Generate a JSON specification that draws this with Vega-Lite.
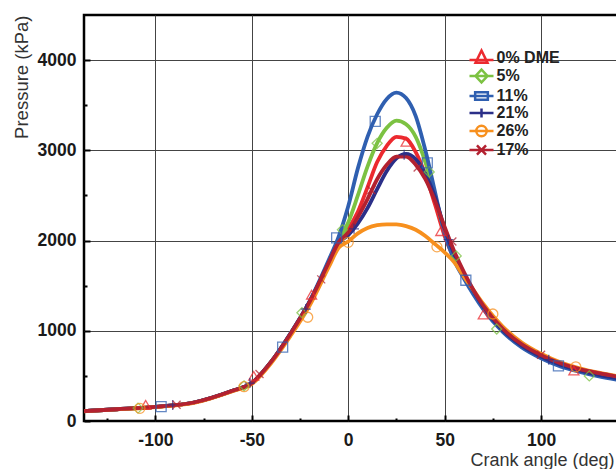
{
  "$schema": "https://vega.github.io/schema/vega-lite/v6.json",
  "width": 540,
  "height": 406,
  "autosize": "none",
  "padding": {"left": 84, "top": 15, "right": 0, "bottom": 48},
  "background": "white",
  "config": {
    "view": {"stroke": "#000", "strokeWidth": 2.5},
    "font": "Liberation Sans"
  },
  "datasets": {
    "curves": [
      {"series":"0% DME","angle":-137,"p":110},{"series":"0% DME","angle":-120,"p":130},{"series":"0% DME","angle":-100,"p":157},{"series":"0% DME","angle":-80,"p":205},{"series":"0% DME","angle":-60,"p":335},{"series":"0% DME","angle":-50,"p":420},{"series":"0% DME","angle":-40,"p":655},{"series":"0% DME","angle":-30,"p":965},{"series":"0% DME","angle":-20,"p":1320},{"series":"0% DME","angle":-10,"p":1760},{"series":"0% DME","angle":-5,"p":1990},{"series":"0% DME","angle":0,"p":2130},{"series":"0% DME","angle":5,"p":2320},{"series":"0% DME","angle":10,"p":2590},{"series":"0% DME","angle":15,"p":2870},{"series":"0% DME","angle":20,"p":3050},{"series":"0% DME","angle":25,"p":3150},{"series":"0% DME","angle":30,"p":3130},{"series":"0% DME","angle":35,"p":2980},{"series":"0% DME","angle":40,"p":2730},{"series":"0% DME","angle":45,"p":2400},{"series":"0% DME","angle":50,"p":2050},{"series":"0% DME","angle":55,"p":1800},{"series":"0% DME","angle":60,"p":1600},{"series":"0% DME","angle":65,"p":1420},{"series":"0% DME","angle":70,"p":1260},{"series":"0% DME","angle":80,"p":1010},{"series":"0% DME","angle":90,"p":835},{"series":"0% DME","angle":100,"p":715},{"series":"0% DME","angle":110,"p":625},{"series":"0% DME","angle":120,"p":565},{"series":"0% DME","angle":130,"p":520},{"series":"0% DME","angle":143,"p":470},
      {"series":"5%","angle":-137,"p":110},{"series":"5%","angle":-120,"p":130},{"series":"5%","angle":-100,"p":157},{"series":"5%","angle":-80,"p":205},{"series":"5%","angle":-60,"p":335},{"series":"5%","angle":-50,"p":420},{"series":"5%","angle":-40,"p":655},{"series":"5%","angle":-30,"p":965},{"series":"5%","angle":-20,"p":1320},{"series":"5%","angle":-10,"p":1765},{"series":"5%","angle":-5,"p":2000},{"series":"5%","angle":0,"p":2200},{"series":"5%","angle":5,"p":2500},{"series":"5%","angle":10,"p":2820},{"series":"5%","angle":15,"p":3080},{"series":"5%","angle":20,"p":3250},{"series":"5%","angle":25,"p":3330},{"series":"5%","angle":30,"p":3290},{"series":"5%","angle":35,"p":3150},{"series":"5%","angle":40,"p":2870},{"series":"5%","angle":45,"p":2500},{"series":"5%","angle":50,"p":2100},{"series":"5%","angle":55,"p":1830},{"series":"5%","angle":60,"p":1610},{"series":"5%","angle":65,"p":1420},{"series":"5%","angle":70,"p":1255},{"series":"5%","angle":80,"p":1000},{"series":"5%","angle":90,"p":825},{"series":"5%","angle":100,"p":705},{"series":"5%","angle":110,"p":615},{"series":"5%","angle":120,"p":555},{"series":"5%","angle":130,"p":505},{"series":"5%","angle":143,"p":455},
      {"series":"11%","angle":-137,"p":110},{"series":"11%","angle":-120,"p":130},{"series":"11%","angle":-100,"p":157},{"series":"11%","angle":-80,"p":205},{"series":"11%","angle":-60,"p":335},{"series":"11%","angle":-50,"p":420},{"series":"11%","angle":-40,"p":655},{"series":"11%","angle":-30,"p":970},{"series":"11%","angle":-20,"p":1330},{"series":"11%","angle":-10,"p":1790},{"series":"11%","angle":-5,"p":2040},{"series":"11%","angle":0,"p":2380},{"series":"11%","angle":5,"p":2800},{"series":"11%","angle":10,"p":3150},{"series":"11%","angle":15,"p":3400},{"series":"11%","angle":20,"p":3570},{"series":"11%","angle":25,"p":3640},{"series":"11%","angle":30,"p":3580},{"series":"11%","angle":35,"p":3380},{"series":"11%","angle":40,"p":3000},{"series":"11%","angle":45,"p":2540},{"series":"11%","angle":50,"p":2080},{"series":"11%","angle":55,"p":1780},{"series":"11%","angle":60,"p":1580},{"series":"11%","angle":65,"p":1400},{"series":"11%","angle":70,"p":1240},{"series":"11%","angle":80,"p":990},{"series":"11%","angle":90,"p":815},{"series":"11%","angle":100,"p":695},{"series":"11%","angle":110,"p":605},{"series":"11%","angle":120,"p":545},{"series":"11%","angle":130,"p":495},{"series":"11%","angle":143,"p":445},
      {"series":"21%","angle":-137,"p":110},{"series":"21%","angle":-120,"p":130},{"series":"21%","angle":-100,"p":157},{"series":"21%","angle":-80,"p":205},{"series":"21%","angle":-60,"p":335},{"series":"21%","angle":-50,"p":420},{"series":"21%","angle":-40,"p":655},{"series":"21%","angle":-30,"p":965},{"series":"21%","angle":-20,"p":1320},{"series":"21%","angle":-10,"p":1755},{"series":"21%","angle":-5,"p":1970},{"series":"21%","angle":0,"p":2060},{"series":"21%","angle":5,"p":2190},{"series":"21%","angle":10,"p":2360},{"series":"21%","angle":15,"p":2570},{"series":"21%","angle":20,"p":2770},{"series":"21%","angle":25,"p":2910},{"series":"21%","angle":30,"p":2960},{"series":"21%","angle":35,"p":2900},{"series":"21%","angle":40,"p":2740},{"series":"21%","angle":45,"p":2480},{"series":"21%","angle":50,"p":2130},{"series":"21%","angle":55,"p":1850},{"series":"21%","angle":60,"p":1630},{"series":"21%","angle":65,"p":1440},{"series":"21%","angle":70,"p":1270},{"series":"21%","angle":80,"p":1010},{"series":"21%","angle":90,"p":835},{"series":"21%","angle":100,"p":715},{"series":"21%","angle":110,"p":625},{"series":"21%","angle":120,"p":560},{"series":"21%","angle":130,"p":510},{"series":"21%","angle":143,"p":460},
      {"series":"26%","angle":-137,"p":108},{"series":"26%","angle":-120,"p":128},{"series":"26%","angle":-100,"p":155},{"series":"26%","angle":-80,"p":200},{"series":"26%","angle":-60,"p":330},{"series":"26%","angle":-50,"p":410},{"series":"26%","angle":-40,"p":640},{"series":"26%","angle":-30,"p":940},{"series":"26%","angle":-20,"p":1280},{"series":"26%","angle":-10,"p":1710},{"series":"26%","angle":-5,"p":1920},{"series":"26%","angle":0,"p":1990},{"series":"26%","angle":5,"p":2080},{"series":"26%","angle":10,"p":2140},{"series":"26%","angle":15,"p":2170},{"series":"26%","angle":20,"p":2180},{"series":"26%","angle":25,"p":2180},{"series":"26%","angle":30,"p":2160},{"series":"26%","angle":35,"p":2120},{"series":"26%","angle":40,"p":2050},{"series":"26%","angle":45,"p":1960},{"series":"26%","angle":50,"p":1870},{"series":"26%","angle":55,"p":1760},{"series":"26%","angle":60,"p":1600},{"series":"26%","angle":65,"p":1450},{"series":"26%","angle":70,"p":1300},{"series":"26%","angle":80,"p":1050},{"series":"26%","angle":90,"p":870},{"series":"26%","angle":100,"p":745},{"series":"26%","angle":110,"p":650},{"series":"26%","angle":120,"p":585},{"series":"26%","angle":130,"p":535},{"series":"26%","angle":143,"p":485},
      {"series":"17%","angle":-137,"p":110},{"series":"17%","angle":-120,"p":130},{"series":"17%","angle":-100,"p":157},{"series":"17%","angle":-80,"p":205},{"series":"17%","angle":-60,"p":335},{"series":"17%","angle":-50,"p":420},{"series":"17%","angle":-40,"p":655},{"series":"17%","angle":-30,"p":965},{"series":"17%","angle":-20,"p":1320},{"series":"17%","angle":-10,"p":1760},{"series":"17%","angle":-5,"p":1980},{"series":"17%","angle":0,"p":2090},{"series":"17%","angle":5,"p":2260},{"series":"17%","angle":10,"p":2460},{"series":"17%","angle":15,"p":2680},{"series":"17%","angle":20,"p":2840},{"series":"17%","angle":25,"p":2930},{"series":"17%","angle":30,"p":2930},{"series":"17%","angle":35,"p":2840},{"series":"17%","angle":40,"p":2680},{"series":"17%","angle":45,"p":2440},{"series":"17%","angle":50,"p":2150},{"series":"17%","angle":55,"p":1880},{"series":"17%","angle":60,"p":1650},{"series":"17%","angle":65,"p":1450},{"series":"17%","angle":70,"p":1280},{"series":"17%","angle":80,"p":1025},{"series":"17%","angle":90,"p":850},{"series":"17%","angle":100,"p":730},{"series":"17%","angle":110,"p":640},{"series":"17%","angle":120,"p":575},{"series":"17%","angle":130,"p":530},{"series":"17%","angle":143,"p":480}
    ],
    "markers": [
      {"series":"0% DME","angle":-105,"p":180},{"series":"0% DME","angle":-49,"p":500},{"series":"0% DME","angle":-19,"p":1400},{"series":"0% DME","angle":30,"p":3095},{"series":"0% DME","angle":48,"p":2104},{"series":"0% DME","angle":70,"p":1180},{"series":"0% DME","angle":117,"p":560},
      {"series":"5%","angle":-109,"p":143},{"series":"5%","angle":-54,"p":390},{"series":"5%","angle":-24,"p":1200},{"series":"5%","angle":-3,"p":2120},{"series":"5%","angle":15,"p":3078},{"series":"5%","angle":42,"p":2760},{"series":"5%","angle":56,"p":1830},{"series":"5%","angle":77,"p":1020},{"series":"5%","angle":125,"p":500},
      {"series":"11%","angle":-97,"p":160},{"series":"11%","angle":-34,"p":818},{"series":"11%","angle":-6,"p":2030},{"series":"11%","angle":14,"p":3320},{"series":"11%","angle":41,"p":2860},{"series":"11%","angle":61,"p":1560},{"series":"11%","angle":109,"p":610},
      {"series":"21%","angle":-91,"p":178},{"series":"21%","angle":-51,"p":420},{"series":"21%","angle":-22,"p":1240},{"series":"21%","angle":3,"p":2130},{"series":"21%","angle":29,"p":2950},{"series":"21%","angle":52,"p":2010},{"series":"21%","angle":104,"p":680},
      {"series":"26%","angle":-108,"p":140},{"series":"26%","angle":-54,"p":380},{"series":"26%","angle":-21,"p":1150},{"series":"26%","angle":0,"p":1980},{"series":"26%","angle":46,"p":1930},{"series":"26%","angle":75,"p":1186},{"series":"26%","angle":118,"p":600},
      {"series":"17%","angle":-89,"p":180},{"series":"17%","angle":-46,"p":520},{"series":"17%","angle":-14,"p":1570},{"series":"17%","angle":12,"p":2560},{"series":"17%","angle":36,"p":2810},{"series":"17%","angle":54,"p":1990},{"series":"17%","angle":100,"p":735}
    ]
  },
  "encoding": {
    "x": {
      "field": "angle", "type": "quantitative",
      "scale": {"domain": [-137, 143], "nice": false, "zero": false},
      "axis": {
        "title": "Crank angle (deg)",
        "values": [-125, -100, -75, -50, -25, 0, 25, 50, 75, 100, 125],
        "labelExpr": "datum.value % 50 === 0 ? '' + datum.value : ''",
        "domain": false,
        "grid": true,
        "gridColor": "#444",
        "gridWidth": 1,
        "gridOpacity": {"condition": {"test": "datum.value % 50 === 0", "value": 1}, "value": 0},
        "tickColor": "#000",
        "tickWidth": 2,
        "tickSize": {"condition": {"test": "datum.value % 50 === 0", "value": -6}, "value": -3},
        "labelFont": "Liberation Sans",
        "labelFontSize": 17.5,
        "labelFontWeight": "bold",
        "labelColor": "#1a1a1a",
        "labelPadding": 16,
        "labelFlush": false,
        "titleFont": "Liberation Sans",
        "titleFontSize": 18,
        "titleFontWeight": "normal",
        "titleColor": "#333",
        "titleAnchor": "end",
        "titleAlign": "right",
        "titleBaseline": "alphabetic",
        "titleX": 530,
        "titleY": 44.5
      }
    },
    "y": {
      "field": "p", "type": "quantitative",
      "scale": {"domain": [0, 4500], "nice": false},
      "axis": {
        "title": "Pressure (kPa)",
        "values": [0, 500, 1000, 1500, 2000, 2500, 3000, 3500, 4000],
        "labelExpr": "datum.value % 1000 === 0 ? '' + datum.value : ''",
        "domain": false,
        "grid": true,
        "gridColor": "#444",
        "gridWidth": 1,
        "gridOpacity": {"condition": {"test": "datum.value % 1000 === 0 && datum.value > 0", "value": 1}, "value": 0},
        "tickColor": "#000",
        "tickWidth": 2,
        "tickSize": {"condition": {"test": "datum.value % 1000 === 0", "value": -6}, "value": -3},
        "labelFont": "Liberation Sans",
        "labelFontSize": 17.5,
        "labelFontWeight": "bold",
        "labelColor": "#1a1a1a",
        "labelPadding": 14,
        "labelFlush": false,
        "titleFont": "Liberation Sans",
        "titleFontSize": 18.5,
        "titleFontWeight": "normal",
        "titleColor": "#333",
        "titleAnchor": "end",
        "titlePadding": 6
      }
    }
  },
  "resolve": {"scale": {"color": "independent"}, "legend": {"color": "independent"}},
  "layer": [
    {
      "data": {"name": "curves"},
      "mark": {"type": "line", "strokeWidth": 3.8, "interpolate": "monotone", "clip": true},
      "encoding": {
        "color": {
          "field": "series", "type": "nominal",
          "scale": {
            "domain": ["0% DME", "5%", "11%", "21%", "26%", "17%"],
            "range": ["#ec2a2f", "#7cc242", "#2f5fb0", "#2b2f88", "#f7901e", "#b32130"]
          },
          "sort": ["0% DME", "5%", "11%", "21%", "26%", "17%"],
          "legend": {
            "title": null,
            "orient": "none",
            "legendX": 389.5,
            "legendY": 35,
            "padding": 0,
            "rowPadding": -5,
            "symbolType": "M-2.4,0H2.4",
            "symbolSize": 100,
            "symbolStrokeWidth": 2.5,
            "symbolFillColor": "transparent",
            "labelOffset": 7,
            "labelFont": "Liberation Sans",
            "labelFontSize": 16,
            "labelFontWeight": "bold",
            "labelColor": "#222",
            "encode": {
              "symbols": {
                "update": {
                  "fill": {"value": "transparent"},
                  "shape": {"signal": "datum.value === '0% DME' ? 'M-2.4,0.39H2.4M0,-1.5L1.2,0.97H-1.2Z' : datum.value === '5%' ? 'M-2.4,0H2.4M0,-1.27L1.2,0L0,1.27L-1.2,0Z' : datum.value === '11%' ? 'M-2.4,0H2.4M-1.27,-0.75H1.27V0.75H-1.27Z' : datum.value === '21%' ? 'M-2.4,0H2.4M0,-0.91V0.91' : datum.value === '26%' ? 'M-2.4,0H2.4M1.04,0A1.04,1.04,0,1,1,-1.04,0A1.04,1.04,0,1,1,1.04,0' : 'M-2.4,0H2.4M-0.91,-0.91L0.91,0.91M-0.91,0.91L0.91,-0.91'"}
                }
              }
            }
          }
        },
        "order": {"field": "angle", "type": "quantitative"}
      }
    },
    {
      "data": {"name": "markers"},
      "mark": {"type": "point", "filled": false, "size": 100, "strokeWidth": 1.3, "opacity": 0.75, "clip": true},
      "encoding": {
        "color": {
          "field": "series", "type": "nominal",
          "scale": {
            "domain": ["0% DME", "5%", "11%", "21%", "26%", "17%"],
            "range": ["#ec2a2f", "#7cc242", "#2f5fb0", "#2b2f88", "#f7901e", "#b32130"]
          },
          "legend": null
        },
        "shape": {
          "field": "series", "type": "nominal",
          "scale": {
            "domain": ["0% DME", "5%", "11%", "21%", "26%", "17%"],
            "range": ["triangle-up", "diamond", "square", "M0,-1V1M-1,0H1", "circle", "M-0.8,-0.8L0.8,0.8M-0.8,0.8L0.8,-0.8"]
          },
          "legend": null
        }
      }
    }
  ]
}
